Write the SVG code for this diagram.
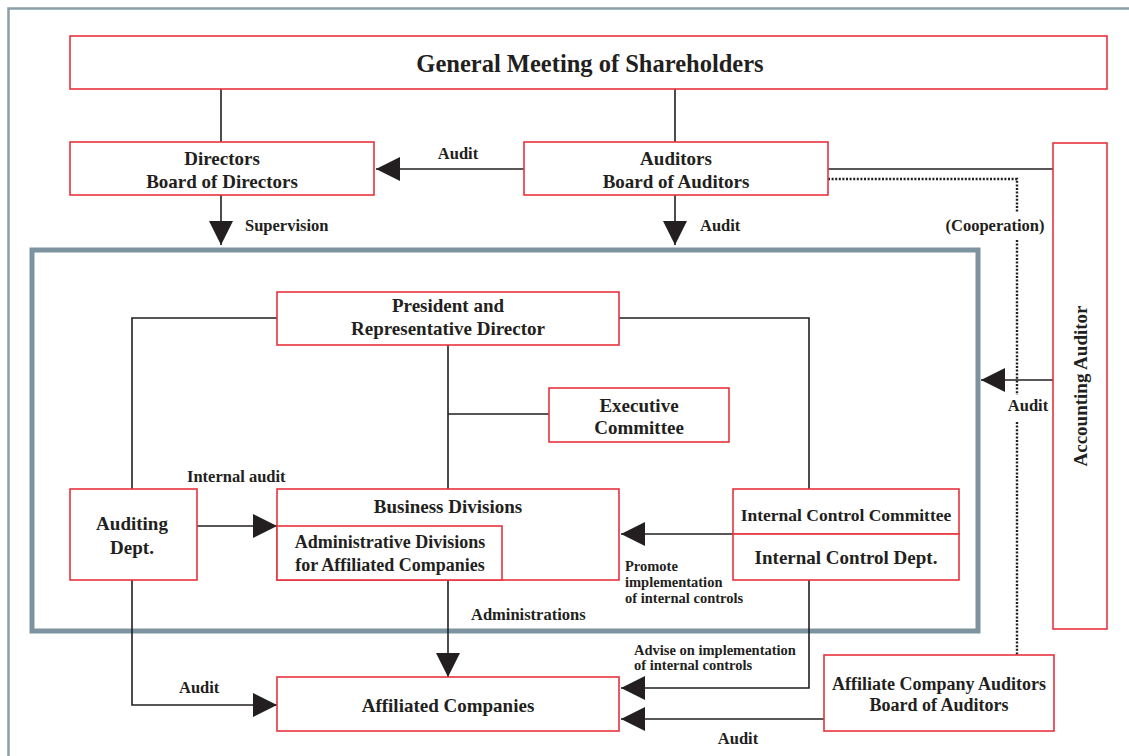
<svg xmlns="http://www.w3.org/2000/svg" width="1129" height="756" viewBox="0 0 1129 756">
<defs>
<style>
.box{fill:#fff;stroke:#e8333d;stroke-width:1.6}
.ln{fill:none;stroke:#231f20;stroke-width:1.6}
.dot{fill:none;stroke:#231f20;stroke-width:2.4;stroke-dasharray:2 1.6}
.t{font-family:"Liberation Serif",serif;font-weight:bold;fill:#231f20;text-anchor:middle}
.n{font-size:19px}
.s{font-size:16.5px}
.xs{font-size:14.5px}
.l{text-anchor:start}
</style>
<marker id="ah" viewBox="0 0 10 10" refX="10" refY="5" markerWidth="24" markerHeight="24" markerUnits="userSpaceOnUse" orient="auto">
<path d="M0,0 L10,5 L0,10 z" fill="#231f20"/>
</marker>
</defs>
<rect x="0" y="0" width="1129" height="756" fill="#fff"/>
<rect x="8.5" y="8.5" width="1130" height="760" fill="none" stroke="#8c9ea8" stroke-width="2.5"/>
<rect x="32" y="250" width="946" height="381" fill="none" stroke="#7d939f" stroke-width="5"/>

<g id="connectors">
<path class="ln" d="M221,89V142M675,89V142"/>
<path class="ln" d="M221,195V245" marker-end="url(#ah)"/>
<path class="ln" d="M675,195V245" marker-end="url(#ah)"/>
<path class="ln" d="M524,169H376" marker-end="url(#ah)"/>
<path class="ln" d="M828,169H1053"/>
<path class="dot" d="M828,179H1017V212M1017,240V395M1017,422V655"/>
<path class="ln" d="M1053,380H981" marker-end="url(#ah)"/>
<path class="ln" d="M277,318H132V489M619,318H809V489"/>
<path class="ln" d="M448,345V489M448,414H549"/>
<path class="ln" d="M197,526H277" stroke-width="3" marker-end="url(#ah)"/>
<path class="ln" d="M733,534H621" marker-end="url(#ah)"/>
<path class="ln" d="M132,580V705H277" marker-end="url(#ah)"/>
<path class="ln" d="M448,580V677" marker-end="url(#ah)"/>
<path class="ln" d="M809,580V688H621" marker-end="url(#ah)"/>
<path class="ln" d="M824,719H621" marker-end="url(#ah)"/>
</g>

<g id="labels">
<text class="t s" x="458" y="159">Audit</text>
<text class="t s l" x="245" y="231">Supervision</text>
<text class="t s l" x="700" y="231">Audit</text>
<text class="t s" x="995" y="231">(Cooperation)</text>
<text class="t s" x="1028" y="411">Audit</text>
<text class="t s l" x="187" y="482">Internal audit</text>
<text class="t xs l" x="625" y="571">Promote</text>
<text class="t xs l" x="625" y="587">implementation</text>
<text class="t xs l" x="625" y="603">of internal controls</text>
<text class="t s l" x="471" y="620">Administrations</text>
<text class="t xs l" x="634" y="655">Advise on implementation</text>
<text class="t xs l" x="634" y="670">of internal controls</text>
<text class="t s l" x="179" y="693">Audit</text>
<text class="t s" x="738" y="744">Audit</text>
</g>

<g id="gms">
<rect class="box" x="70" y="36" width="1037" height="53"/>
<text class="t" x="590" y="72" font-size="24.5">General Meeting of Shareholders</text>
</g>
<g id="directors">
<rect class="box" x="70" y="142" width="304" height="53"/>
<text class="t n" x="222" y="165">Directors</text>
<text class="t n" x="222" y="188">Board of Directors</text>
</g>
<g id="auditors">
<rect class="box" x="524" y="142" width="304" height="53"/>
<text class="t n" x="676" y="165">Auditors</text>
<text class="t n" x="676" y="188">Board of Auditors</text>
</g>
<g id="accounting-auditor">
<rect class="box" x="1053" y="143" width="54" height="486"/>
<text class="t n" transform="translate(1087,386) rotate(-90)">Accounting Auditor</text>
</g>
<g id="president">
<rect class="box" x="277" y="292" width="342" height="53"/>
<text class="t n" x="448" y="312">President and</text>
<text class="t n" x="448" y="335">Representative Director</text>
</g>
<g id="executive">
<rect class="box" x="549" y="388" width="180" height="54"/>
<text class="t n" x="639" y="412">Executive</text>
<text class="t n" x="639" y="434">Committee</text>
</g>
<g id="auditing-dept">
<rect class="box" x="70" y="489" width="127" height="91"/>
<text class="t n" x="132" y="530">Auditing</text>
<text class="t n" x="132" y="554">Dept.</text>
</g>
<g id="business">
<rect class="box" x="277" y="489" width="342" height="91"/>
<text class="t n" x="448" y="513">Business Divisions</text>
</g>
<g id="admin">
<rect class="box" x="277" y="526" width="225" height="54"/>
<text class="t" x="390" y="548" font-size="18">Administrative Divisions</text>
<text class="t" x="390" y="571" font-size="18">for Affiliated Companies</text>
</g>
<g id="ic-committee">
<rect class="box" x="733" y="489" width="226" height="45"/>
<text class="t" x="846" y="521" font-size="17.5">Internal Control Committee</text>
</g>
<g id="ic-dept">
<rect class="box" x="733" y="534" width="226" height="46"/>
<text class="t n" x="846" y="564">Internal Control Dept.</text>
</g>
<g id="affiliated">
<rect class="box" x="277" y="677" width="342" height="54"/>
<text class="t n" x="448" y="712">Affiliated Companies</text>
</g>
<g id="affiliate-auditors">
<rect class="box" x="824" y="655" width="230" height="76"/>
<text class="t" x="939" y="690" font-size="18">Affiliate Company Auditors</text>
<text class="t" x="939" y="711" font-size="18">Board of Auditors</text>
</g>
</svg>
